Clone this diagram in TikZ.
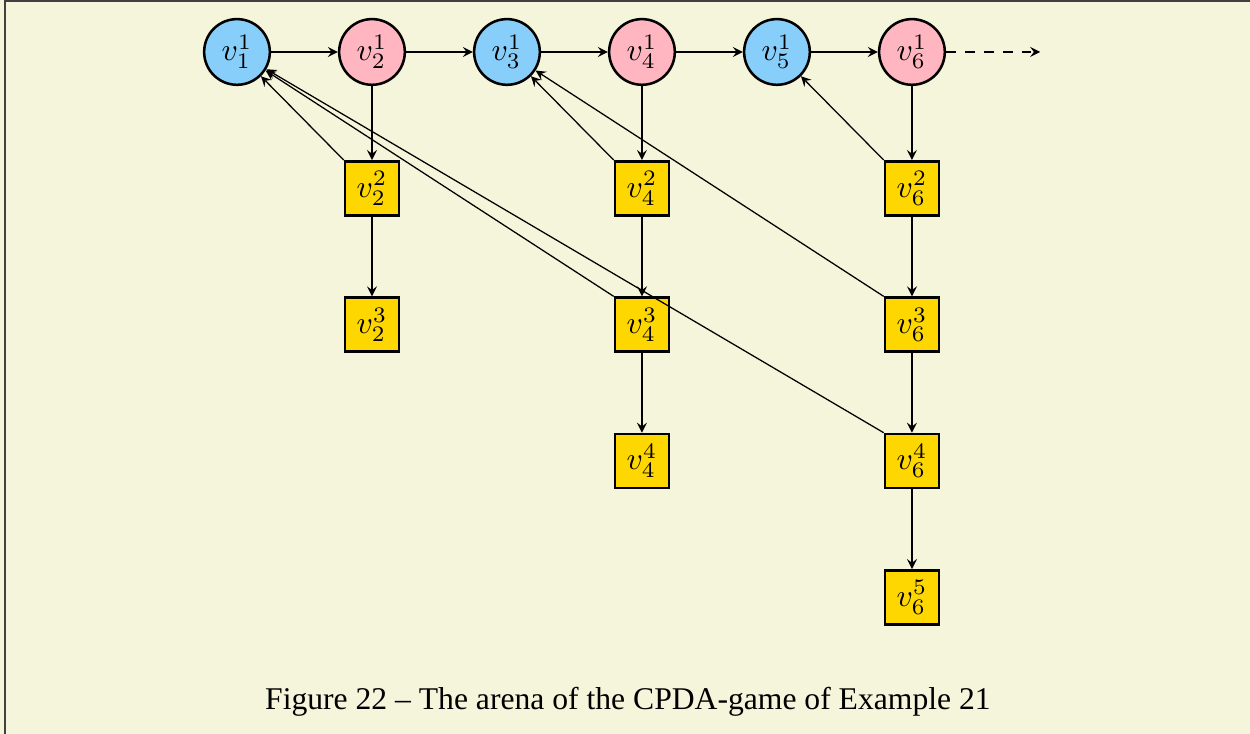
\documentclass[tikz,border=0pt]{standalone}
\usepackage{tikz}
\usetikzlibrary{arrows}
\usepackage{amsmath}
\usepackage{fontspec}
\newfontfamily\capfont[Ligatures=TeX]{Liberation Serif}
\definecolor{bgbeige}{HTML}{F5F5DC}
\definecolor{eloise}{HTML}{87CEFA}
\definecolor{abelard}{HTML}{FFB6C1}
\definecolor{stackgold}{HTML}{FFD700}

\begin{document}
\begin{tikzpicture}[x=1.5cm, y=1.515cm, >=stealth,
		circ/.style={circle, draw, thick, minimum size=0.73cm, inner sep=0pt},
		sq/.style={rectangle, draw, thick, fill=stackgold, minimum size=0.6cm, inner sep=0pt}]
			%background
			\useasboundingbox (-1.7556,-5.0) rectangle (7.504,0.3812);
			\fill[bgbeige] (-1.7556,-5.0) rectangle (7.504,0.3812);
			\draw[darkgray, line width=0.6pt] (-1.7185,-5.0) -- (-1.7185,0.374) -- (7.504,0.374);
			%top row
			\foreach \i/\col in {1/eloise,2/abelard,3/eloise,4/abelard,5/eloise,6/abelard}
			\node[circ, fill=\col] (v\i1) at (\i-1,0) {$v^1_\i$};
			\coordinate (inf) at (5.95,0);
			%stacks
			\node[sq] (v22) at (1,-1) {$v^2_2$};
			\node[sq] (v23) at (1,-2) {$v^3_2$};
			\foreach \j in {2,3,4}
			\node[sq] (v4\j) at (3,1-\j) {$v^\j_4$};
			\foreach \j in {2,...,5}
			\node[sq] (v6\j) at (5,1-\j) {$v^\j_6$};
			%edges
			\foreach \a/\b in {v11/v21, v21/v31, v31/v41, v41/v51, v51/v61,
				v21/v22, v22/v23,
				v41/v42, v42/v43, v43/v44,
				v61/v62, v62/v63, v63/v64, v64/v65}
			\draw[->] (\a) -- (\b);
			\draw[->, dashed] (v61) -- (inf);
			%back edges
			\foreach \a/\b in {v22/v11, v43/v11, v64/v11, v42/v31, v63/v31, v62/v51}
			\draw[->] (\a.north west) -- (\b);
			%caption
			\node[font=\capfont] (cap) at (2.896,-4.765) {Figure 22 -- The arena of the CPDA-game of Example 21};
\end{tikzpicture}
\end{document}
